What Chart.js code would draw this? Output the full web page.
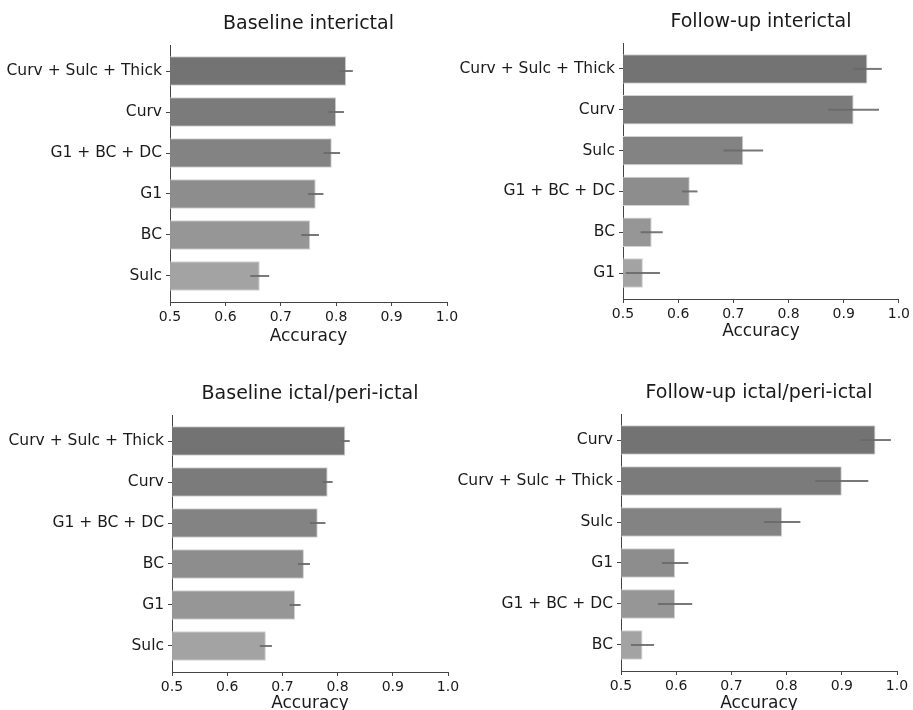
<!DOCTYPE html>
<html>
<head>
<meta charset="utf-8">
<script src="https://cdn.jsdelivr.net/npm/chart.js@4.4.1/dist/chart.umd.min.js"></script>
<style>
  html, body { margin: 0; padding: 0; background: #fff; overflow: hidden; }
  #wrap { position: relative; width: 913px; height: 710px; overflow: hidden; }
  canvas { position: absolute; }
</style>
</head>
<body>
<div id="wrap">
  <canvas id="c1" width="470" height="355" style="left:0;top:0"></canvas>
  <canvas id="c2" width="457" height="355" style="left:456px;top:0"></canvas>
  <canvas id="c3" width="470" height="360" style="left:0;top:360px"></canvas>
  <canvas id="c4" width="457" height="360" style="left:456px;top:360px"></canvas>
</div>
<script>
// --- data ---
const baseInterLabels = ['Curv + Sulc + Thick', 'Curv', 'G1 + BC + DC', 'G1', 'BC', 'Sulc'];
const baseInterAcc    = [0.818, 0.800, 0.792, 0.763, 0.753, 0.662];
const baseInterErr    = [0.012, 0.014, 0.015, 0.014, 0.016, 0.017];

const followInterLabels = ['Curv + Sulc + Thick', 'Curv', 'Sulc', 'G1 + BC + DC', 'BC', 'G1'];
const followInterAcc    = [0.943, 0.918, 0.718, 0.621, 0.552, 0.536];
const followInterErr    = [0.026, 0.046, 0.036, 0.014, 0.020, 0.031];

const baseIctalLabels = ['Curv + Sulc + Thick', 'Curv', 'G1 + BC + DC', 'BC', 'G1', 'Sulc'];
const baseIctalAcc    = [0.814, 0.782, 0.764, 0.739, 0.723, 0.670];
const baseIctalErr    = [0.008, 0.009, 0.014, 0.011, 0.010, 0.011];

const followIctalLabels = ['Curv', 'Curv + Sulc + Thick', 'Sulc', 'G1', 'G1 + BC + DC', 'BC'];
const followIctalAcc    = [0.961, 0.900, 0.792, 0.598, 0.598, 0.539];
const followIctalErr    = [0.028, 0.048, 0.033, 0.024, 0.031, 0.021];

const xTickValues = [0.5, 0.6, 0.7, 0.8, 0.9, 1.0];

// grey shades by rank (best = darkest)
const rankGreys = ['#737373', '#7b7b7b', '#838383', '#8d8d8d', '#969696', '#a3a3a3'];
const FONT = '"DejaVu Sans", sans-serif';
const TEXT = '#1a1a1a';
const AXIS = '#444';

// error bars drawn through the x scale
const errorBars = {
  id: 'errorBars',
  afterDatasetsDraw(chart) {
    const ctx = chart.ctx;
    const x = chart.scales.x;
    const ds = chart.data.datasets[0];
    const meta = chart.getDatasetMeta(0);
    ctx.save();
    ctx.strokeStyle = 'rgba(105,105,105,0.9)';
    ctx.lineWidth = 2;
    meta.data.forEach((bar, i) => {
      const v = ds.data[i].x;
      ctx.beginPath();
      ctx.moveTo(x.getPixelForValue(v - ds.errors[i]), bar.y);
      ctx.lineTo(x.getPixelForValue(v + ds.errors[i]), bar.y);
      ctx.stroke();
    });
    ctx.restore();
  }
};

// title centred over the axes (like matplotlib), not over the canvas
const panelTitle = {
  id: 'panelTitle',
  afterDraw(chart, args, opts) {
    const ctx = chart.ctx;
    const a = chart.chartArea;
    ctx.save();
    ctx.font = '19px ' + FONT;
    ctx.fillStyle = TEXT;
    ctx.textAlign = 'center';
    ctx.textBaseline = 'alphabetic';
    ctx.fillText(opts.text, (a.left + a.right) / 2, a.top - 16);
    ctx.restore();
  }
};

function makePanel(id, title, labels, acc, err, g) {
  return new Chart(document.getElementById(id), {
    type: 'bar',
    data: {
      datasets: [{
        data: acc.map((v, i) => ({ x: v, y: i })),
        errors: err,
        backgroundColor: rankGreys,
        borderColor: '#d2d2d2',
        borderWidth: 1,
        barPercentage: 0.72,
        categoryPercentage: 1
      }]
    },
    options: {
      indexAxis: 'y',
      responsive: false,
      animation: false,
      layout: { padding: { top: g.padTop, right: g.padRight, left: 0, bottom: 0 } },
      scales: {
        x: {
          type: 'linear',
          min: 0.5,
          max: 1.0,
          afterBuildTicks: s => { s.ticks = xTickValues.map(v => ({ value: v })); },
          afterFit: s => { s.height = g.xHeight; },
          grid: { drawOnChartArea: false, tickLength: 4, tickColor: AXIS },
          border: { color: AXIS, width: 1 },
          ticks: {
            callback: v => Number(v).toFixed(1),
            font: { family: FONT, size: 14 },
            color: TEXT,
            padding: 3
          },
          title: {
            display: true,
            text: 'Accuracy',
            font: { family: FONT, size: 17 },
            color: TEXT,
            padding: { top: 0, bottom: g.titlePad }
          }
        },
        y: {
          type: 'linear',
          reverse: true,
          offset: false,
          min: -0.635,
          max: 5.635,
          afterBuildTicks: s => { s.ticks = labels.map((_, i) => ({ value: i })); },
          afterFit: s => { s.width = g.yWidth; },
          grid: { offset: false, drawOnChartArea: false, tickLength: 4, tickColor: AXIS },
          border: { color: AXIS, width: 1 },
          ticks: {
            callback: v => labels[v],
            font: { family: FONT, size: 15.5 },
            color: TEXT,
            padding: 4,
            autoSkip: false
          }
        }
      },
      plugins: {
        legend: { display: false },
        tooltip: { enabled: false },
        panelTitle: { text: title }
      }
    },
    plugins: [errorBars, panelTitle]
  });
}

makePanel('c1', 'Baseline interictal', baseInterLabels, baseInterAcc, baseInterErr,
  { yWidth: 170, padTop: 45, padRight: 23, xHeight: 53, titlePad: 8 });
makePanel('c2', 'Follow-up interictal', followInterLabels, followInterAcc, followInterErr,
  { yWidth: 167, padTop: 43, padRight: 14, xHeight: 56, titlePad: 13 });
makePanel('c3', 'Baseline ictal/peri-ictal', baseIctalLabels, baseIctalAcc, baseIctalErr,
  { yWidth: 172, padTop: 55, padRight: 22, xHeight: 48, titlePad: 6 });
makePanel('c4', 'Follow-up ictal/peri-ictal', followIctalLabels, followIctalAcc, followIctalErr,
  { yWidth: 165, padTop: 54, padRight: 16, xHeight: 49, titlePad: 6 });
</script>
</body>
</html>
